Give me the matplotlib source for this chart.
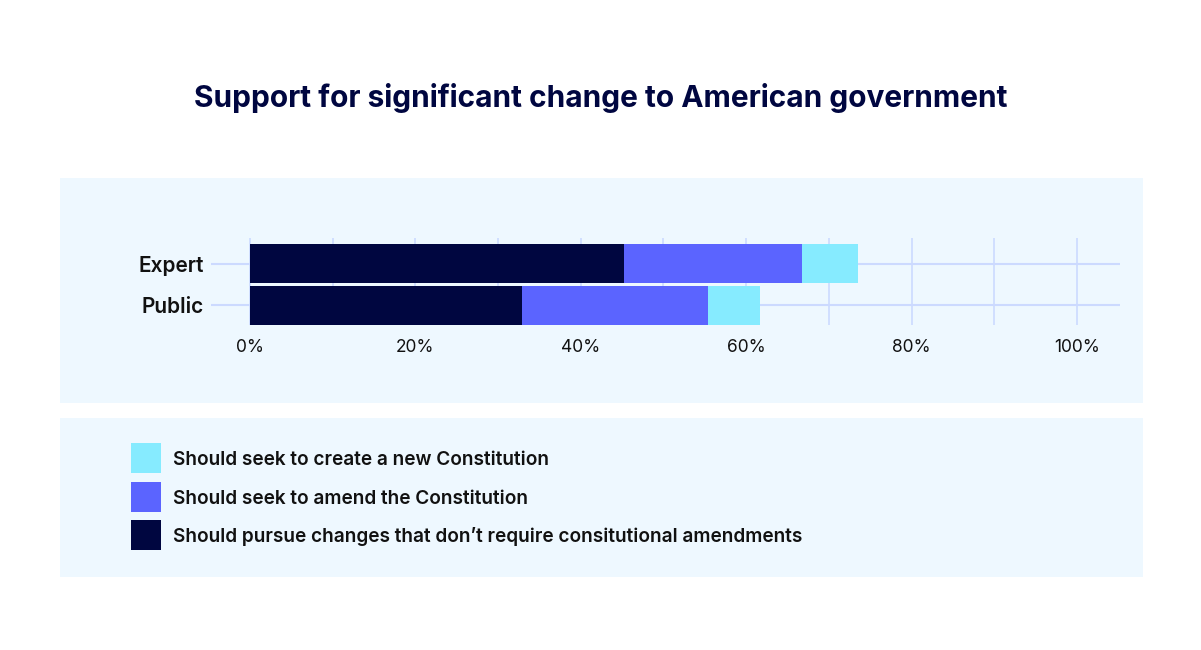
import matplotlib
matplotlib.use("Agg")
import matplotlib.pyplot as plt
from matplotlib.patches import Rectangle
import numpy as np

plt.rcParams['font.family'] = ['Inter', 'DejaVu Sans']

categories = ["Public", "Expert"]
no_amend = [32.9, 45.2]
amend = [22.5, 21.5]
new_const = [6.3, 6.8]
series_labels = [
    "Should pursue changes that don\u2019t require consitutional amendments",
    "Should seek to amend the Constitution",
    "Should seek to create a new Constitution",
]
colors = ["#000640", "#5B64FF", "#86EBFF"]
xticks = [0, 20, 40, 60, 80, 100]
xtick_labels = ["0%", "20%", "40%", "60%", "80%", "100%"]
title = "Support for significant change to American government"

W, H = 1201, 650
fig = plt.figure(figsize=(W / 100, H / 100), dpi=100)
fig.patch.set_facecolor("white")

panel = "#EEF8FF"
def fx(px): return px / W
def fy(py): return 1 - py / H

fig.patches.append(Rectangle((fx(60), fy(403)), fx(1143) - fx(60), fy(178) - fy(403),
                             transform=fig.transFigure, facecolor=panel, edgecolor="none", zorder=-5))
fig.patches.append(Rectangle((fx(60), fy(577)), fx(1143) - fx(60), fy(418) - fy(577),
                             transform=fig.transFigure, facecolor=panel, edgecolor="none", zorder=-5))

fig.text(0.5, fy(98), title, ha="center", va="center", fontsize=21.5,
         fontweight="bold", color="#000640")

ax = fig.add_axes([fx(211), fy(325), fx(1120) - fx(211), fy(238) - fy(325)])
ax.set_facecolor("none")
ax.set_xlim(-4.7, 105.2)
ax.set_ylim(-0.47, 1.62)
for s in ax.spines.values():
    s.set_visible(False)

grid_c = "#CCDAFF"
for v in np.arange(0, 101, 10):
    ax.axvline(v, color=grid_c, lw=1.2, zorder=1)
y = np.arange(len(categories))
for yy in y:
    ax.axhline(yy, color=grid_c, lw=1.5, zorder=1)

left = np.zeros(len(categories))
for vals, c, lab in zip([no_amend, amend, new_const], colors, series_labels):
    ax.barh(y, vals, left=left, height=0.94, color=c, zorder=2, label=lab)
    left = left + np.array(vals)

ax.set_yticks(y)
ax.set_yticklabels(categories, fontsize=15, fontweight="semibold", color="#111111")
ax.set_xticks(xticks)
ax.set_xticklabels(xtick_labels, fontsize=12.5, color="#111111")
ax.tick_params(axis="both", length=0)
ax.tick_params(axis="y", pad=5)
ax.tick_params(axis="x", pad=10)

# legend (manual)
leg_items = [(series_labels[2], colors[2], 458), (series_labels[1], colors[1], 497), (series_labels[0], colors[0], 535)]
for lab, c, cy in leg_items:
    fig.patches.append(Rectangle((fx(131), fy(cy + 15)), fx(161) - fx(131), fy(cy - 15) - fy(cy + 15),
                                 transform=fig.transFigure, facecolor=c, edgecolor="none", zorder=3))
    fig.text(fx(173), fy(cy + 2), lab, ha="left", va="center", fontsize=13.7,
             fontweight="semibold", color="#111111")

fig.savefig("out.png", dpi=100, facecolor=fig.get_facecolor())
